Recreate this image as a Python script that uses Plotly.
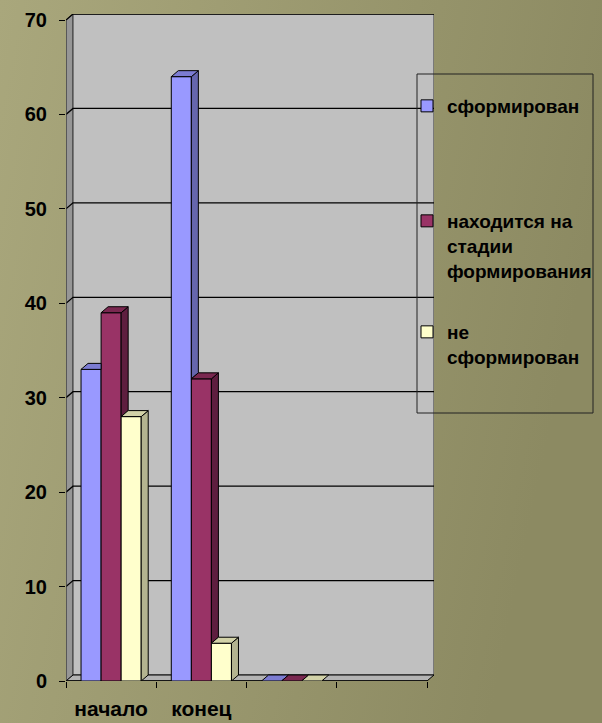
import base64
import plotly.graph_objects as go

# ---- data ----
categories = ["начало", "конец", "", ""]
series_names = ["сформирован", "находится на<br>стадии<br>формирования", "не<br>сформирован"]
values_formed = [33, 64, 0, None]
values_forming = [39, 32, 0, None]
values_not_formed = [28, 4, 0, None]
y_ticks = [0, 10, 20, 30, 40, 50, 60, 70]

# ---- style ----
front_colors = ["#9999FF", "#993366", "#FFFFCC"]
top_colors = ["#7C7CD2", "#7A2850", "#D2D2A8"]
side_colors = ["#6666AE", "#5E1E3F", "#B4B490"]
FONT = "Liberation Sans"
YMAX = 70
DX = 0.0776   # depth offset in x units
DY = 0.635    # depth offset in y units
BARGAP = 1 / 3
W = (1 - BARGAP) / 3
L, R, T, B = 66, 168, 14, 42
FIG_W, FIG_H = 602, 723
PW, PH = FIG_W - L - R, FIG_H - T - B

series = [values_formed, values_forming, values_not_formed]
xpos = list(range(len(categories)))
x_lo, x_hi = -0.5, len(categories) - 0.5

fig = go.Figure()

legend_ids = ["legend", "legend2", "legend3"]
offsets = [-1.5 * W + k * W for k in range(3)]

# front faces of the bars
for k, vals in enumerate(series):
    fig.add_trace(go.Bar(
        x=xpos, y=vals, width=W, offset=offsets[k], name=series_names[k],
        marker=dict(color=front_colors[k], line=dict(color="black", width=1)),
        legend=legend_ids[k], hoverinfo="skip",
    ))

# 3D side and top faces, computed from the values
for k, vals in enumerate(series):
    sx, sy, tx, ty = [], [], [], []
    for i, v in enumerate(vals):
        if v is None:
            continue
        nxt = series[k + 1][i] if k + 1 < len(series) else 0
        nxt = nxt or 0
        xl = xpos[i] + offsets[k]
        xr = xl + W
        if v > nxt:
            sx += [xr, xr, xr + DX, xr + DX, xr, None]
            sy += [nxt, v, v + DY, nxt + DY, nxt, None]
        if nxt > v:
            tx += [xl, xr, xr, xl + DX, xl, None]
            ty += [v, v, v + DY, v + DY, v, None]
        else:
            tx += [xl, xr, xr + DX, xl + DX, xl, None]
            ty += [v, v, v + DY, v + DY, v, None]
    if sx:
        fig.add_trace(go.Scatter(x=sx, y=sy, mode="lines", fill="toself",
                                 fillcolor=side_colors[k], line=dict(color="black", width=1),
                                 showlegend=False, hoverinfo="skip"))
    fig.add_trace(go.Scatter(x=tx, y=ty, mode="lines", fill="toself",
                             fillcolor=top_colors[k], line=dict(color="black", width=1),
                             showlegend=False, hoverinfo="skip"))

# walls, floor, gridlines
shapes = []
shapes.append(dict(type="path", xref="x", yref="y", layer="below",
                   path=f"M{x_lo},0 L{x_lo},{YMAX} L{x_lo+DX},{YMAX+DY} L{x_lo+DX},{DY} Z",
                   fillcolor="#969696", line=dict(color="#555555", width=1)))
shapes.append(dict(type="rect", xref="x", yref="y", layer="below",
                   x0=x_lo + DX, y0=DY, x1=x_hi + DX, y1=YMAX + DY,
                   fillcolor="#C0C0C0", line=dict(color="#333333", width=1)))
shapes.append(dict(type="path", xref="x", yref="y", layer="below",
                   path=f"M{x_lo},0 L{x_hi},0 L{x_hi+DX},{DY} L{x_lo+DX},{DY} Z",
                   fillcolor="#B4B4B4", line=dict(color="black", width=1)))
for v in y_ticks[1:]:
    shapes.append(dict(type="path", xref="x", yref="y", layer="below",
                       path=f"M{x_lo},{v} L{x_lo+DX},{v+DY} L{x_hi+DX},{v+DY}",
                       line=dict(color="black", width=1.3)))
shapes.append(dict(type="line", xref="x", yref="y", x0=x_lo, y0=0, x1=x_lo, y1=YMAX,
                   line=dict(color="#444444", width=1.2), layer="below"))
shapes.append(dict(type="line", xref="x", yref="y", x0=x_lo, y0=0, x1=x_hi, y1=0,
                   line=dict(color="black", width=1.3), layer="below"))

def px_to_paper_x(px):
    return (px - L) / PW

def px_to_paper_y(py):
    return (FIG_H - B - py) / PH

# legend frame
shapes.append(dict(type="rect", xref="paper", yref="paper",
                   x0=px_to_paper_x(417), x1=px_to_paper_x(593),
                   y0=px_to_paper_y(413), y1=px_to_paper_y(74),
                   line=dict(color="#222222", width=1), fillcolor="rgba(0,0,0,0)"))

# gradient background
svg = (f'<svg xmlns="http://www.w3.org/2000/svg" width="{FIG_W}" height="{FIG_H}">'
       '<defs><linearGradient id="g" x1="0" y1="0" x2="1" y2="0.25">'
       '<stop offset="0" stop-color="#A9A77C"/><stop offset="1" stop-color="#8C8A62"/>'
       '</linearGradient></defs>'
       f'<rect width="{FIG_W}" height="{FIG_H}" fill="url(#g)"/></svg>')
src = "data:image/svg+xml;base64," + base64.b64encode(svg.encode()).decode()

legend_common = dict(xanchor="left", yanchor="top", bgcolor="rgba(0,0,0,0)",
                     borderwidth=0, valign="top",
                     font=dict(family=FONT, size=19, color="black", weight="bold"))
legend_top_px = [87, 202, 313]
legend_left_px = 407

fig.update_layout(
    width=FIG_W, height=FIG_H,
    margin=dict(l=L, r=R, t=T, b=B, autoexpand=False),
    paper_bgcolor="#9B996F", plot_bgcolor="rgba(0,0,0,0)",
    barmode="overlay", hovermode=False,
    shapes=shapes,
    images=[dict(source=src, xref="paper", yref="paper",
                 x=-L / PW, y=1 + T / PH, sizex=FIG_W / PW, sizey=FIG_H / PH,
                 xanchor="left", yanchor="top", sizing="stretch", layer="below")],
    xaxis=dict(range=[x_lo, x_hi + DX], tickvals=xpos, ticktext=categories,
               showgrid=False, zeroline=False, showline=False, ticks="",
               ticklabelstandoff=13, automargin=False,
               tickfont=dict(family=FONT, size=21, color="black", weight="bold"),
               minor=dict(tickvals=[x - 0.5 for x in xpos] + [x_hi],
                          ticks="outside", ticklen=6, tickcolor="black", tickwidth=1,
                          showgrid=False)),
    yaxis=dict(range=[0, YMAX + DY], tickvals=y_ticks, showgrid=False, zeroline=False,
               showline=False, ticks="outside", ticklen=6, tickcolor="black",
               ticklabelstandoff=8, automargin=False,
               tickfont=dict(family=FONT, size=20, color="black", weight="bold")),
    legend=dict(x=px_to_paper_x(legend_left_px), y=px_to_paper_y(legend_top_px[0]), **legend_common),
    legend2=dict(x=px_to_paper_x(legend_left_px), y=px_to_paper_y(legend_top_px[1]), **legend_common),
    legend3=dict(x=px_to_paper_x(legend_left_px), y=px_to_paper_y(legend_top_px[2]), **legend_common),
)

fig.write_html("out.html", config={"displayModeBar": False},
               post_script="document.body.style.margin='0';")
